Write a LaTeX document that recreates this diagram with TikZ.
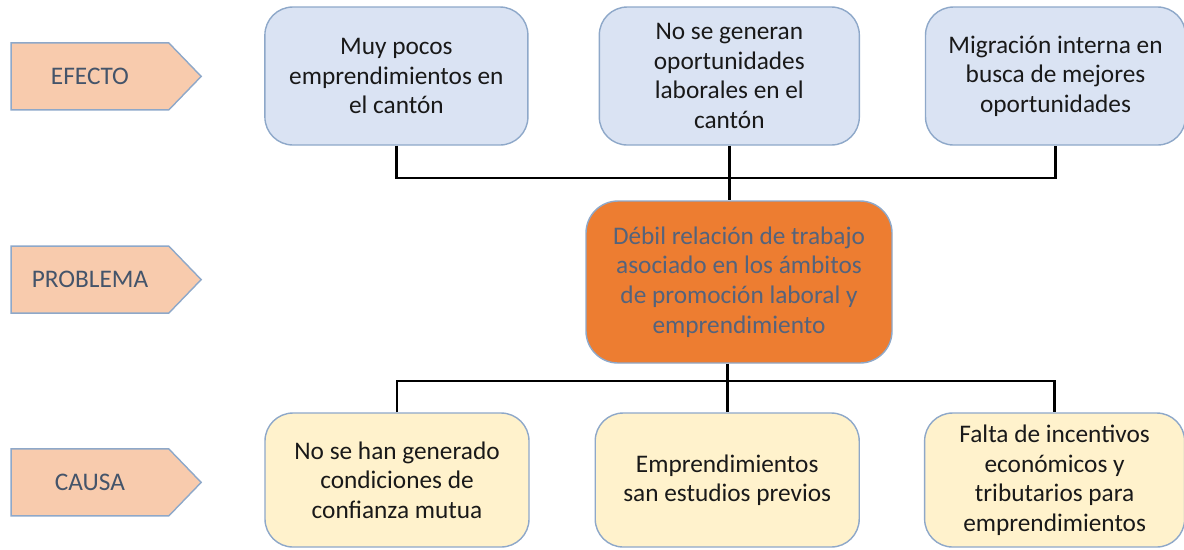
\documentclass[tikz,border=0pt]{standalone}
\usepackage{fontspec}
\setmainfont{Carlito}
\usetikzlibrary{positioning,shapes.symbols}
\definecolor{AzulPalido}{RGB}{218,227,243}
\definecolor{AzulBorde}{RGB}{142,168,201}
\definecolor{AmarilloPalido}{RGB}{255,242,204}
\definecolor{Naranja}{RGB}{237,125,49}
\definecolor{Salmon}{RGB}{248,203,173}
\definecolor{TextoGris}{RGB}{68,84,106}
\definecolor{TextoNaranja}{RGB}{84,99,124}
\tikzset{
  efectobox/.style={draw=AzulBorde, line width=1pt, rounded corners=0.7cm, fill=AzulPalido,
    align=center, minimum width=#1, minimum height=3.45cm, inner sep=2pt, text=black!90},
  efectobox/.default=6.5cm,
  causabox/.style={draw=AzulBorde, line width=1pt, rounded corners=0.7cm, fill=AmarilloPalido,
    align=center, minimum width=#1, minimum height=3.35cm, inner sep=2pt, text=black!90},
  causabox/.default=6.6cm,
  problemabox/.style={draw=AzulBorde, line width=1pt, rounded corners=0.8cm, fill=Naranja,
    align=center, minimum width=7.65cm, minimum height=4.05cm, inner sep=2pt, text=TextoNaranja},
  nivelbox/.style={signal, signal to=east, signal from=nowhere, signal pointer angle=92,
    draw=AzulBorde, line width=1pt, fill=Salmon, text=TextoGris,
    minimum width=4.75cm, minimum height=1.675cm, inner sep=2pt},
  linea/.style={line width=2pt, black},
}

\begin{document}
\begin{tikzpicture}[font=\fontsize{18}{21}\selectfont]
    \useasboundingbox (0,0) rectangle (29.6,-13.725);

    % ---- niveles ----
    \node[nivelbox] (nefecto) at (2.25,-1.91) {EFECTO};
    \node[nivelbox] (nproblema) at (2.25,-6.99) {PROBLEMA};
    \node[nivelbox] (ncausa) at (2.25,-12.06) {CAUSA};

    % ---- efectos ----
    \node[efectobox=6.575cm] (e1) at (9.91,-1.9) {Muy pocos\\emprendimientos en\\el cantón};
    \node[efectobox, right=1.75cm of e1] (e2) {No se generan\\oportunidades\\laborales en el\\cantón};
    \node[efectobox, right=1.62cm of e2] (e3) {Migración interna en\\busca de mejores\\oportunidades};

    % ---- problema ----
    \node[problemabox] (prob) at (18.475,-7.05)
      {Débil relación de trabajo\\asociado en los ámbitos\\de promoción laboral y\\emprendimiento};

    % ---- causas ----
    \node[causabox] (c1) at (9.925,-12.0) {No se han generado\\condiciones de\\confianza mutua};
    \node[causabox, right=1.62cm of c1] (c2) {Emprendimientos\\san estudios previos};
    \node[causabox=6.5cm, right=1.6cm of c2] (c3) {Falta de incentivos\\económicos y\\tributarios para\\emprendimientos};

    \coordinate (jtop) at (18.175,-4.45);
    \coordinate (jbot) at (18.175,-9.525);

    \draw[linea] (e1.south) |- (jtop) -| (e3.south);
    \draw[linea] (e2.south) -- (e2.south |- prob.north);
    \draw[linea] (c1.north) |- (jbot) -| (c3.north);
    \draw[linea] (prob.south -| c2.north) -- (c2.north);
  \end{tikzpicture}
\end{document}
